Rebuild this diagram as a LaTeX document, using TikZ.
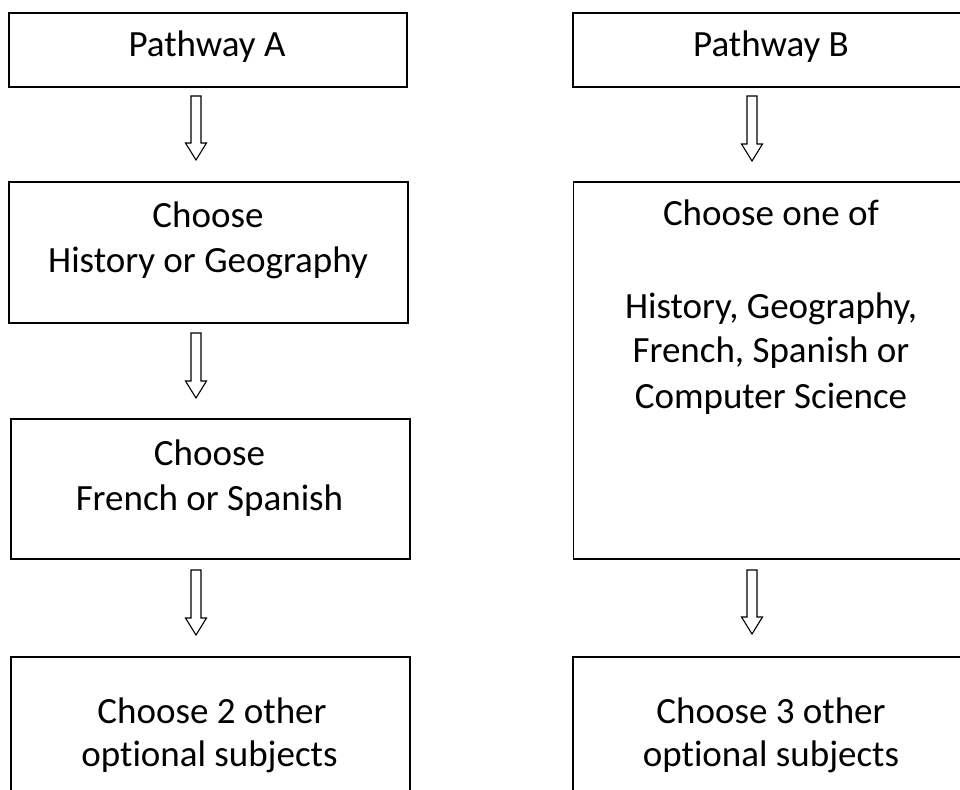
\documentclass[tikz,border=0pt]{standalone}
\usepackage{fontspec}
\setmainfont[Ligatures=NoCommon]{Carlito}
\usetikzlibrary{calc}
\tikzset{
  boxnode/.style={draw=black, line width=1.8pt, rectangle, inner sep=0pt},
  txt/.style={anchor=base, inner sep=0pt, font=\fontsize{37}{45}\selectfont},
  blockarr/.style={draw=black, line width=1.1pt, fill=white, line join=miter}
}
\newcommand\blockarrow[2]{%
  \draw[blockarr] let \p1=(#1), \p2=(#2) in
    (\x1-5pt,\y1) -- (\x1+5pt,\y1) -- (\x1+5pt,\y2+17pt) -- (\x1+10.5pt,\y2+17pt)
    -- (\x1,\y2) -- (\x1-10.5pt,\y2+17pt) -- (\x1-5pt,\y2+17pt) -- cycle;}
\newcommand\boxat[5]{% name, x1, y1, x2, y2
  \node[boxnode, minimum width={(#4-#2)*1pt}, minimum height={(#5-#3)*1pt}, anchor=north west] (#1) at (#2,#3) {};}
\begin{document}
\begin{tikzpicture}[x=1pt, y=-1pt]
\useasboundingbox (0,0) rectangle (960,789);
\fill[white] (0,0) rectangle (960,789);
\clip (0,0) rectangle (960,789);
% boxes
\boxat{A1}{8}{12}{406}{86}
\boxat{A2}{8}{180.7}{407}{321.7}
\boxat{A3}{10}{418}{409}{558}
\boxat{A4}{10}{656}{409}{840}
\boxat{B1}{572}{12}{970}{86}
\boxat{B2}{572.5}{180.7}{970.5}{558}
\boxat{B3}{572}{656}{970}{840}
% texts
\node[txt] (tA1) at (207,57) {Pathway A};
\node[txt] (tB1) at (771,57) {Pathway B};
\node[txt] (tA2a) at (208,227.3) {Choose};
\node[txt] (tA2b) at (208,272.7) {History or Geography};
\node[txt] (tA3a) at (209.5,465) {Choose};
\node[txt] (tA3b) at (209.5,510) {French or Spanish};
\node[txt] (tA4a) at (212,723) {Choose 2 other};
\node[txt] (tA4b) at (209.5,766) {optional subjects};
\node[txt] (tB2a) at (771,225) {Choose one of};
\node[txt] (tB2b) at (771,318.3) {History, Geography,};
\node[txt] (tB2c) at (771,362.7) {French, Spanish or};
\node[txt] (tB2d) at (771,408.3) {Computer Science};
\node[txt] (tB3a) at (771,723) {Choose 3 other};
\node[txt] (tB3b) at (771,766) {optional subjects};
% arrow end points
\coordinate (a1t) at (196,96);   \coordinate (a1b) at (196,160);
\coordinate (a2t) at (196,333);  \coordinate (a2b) at (196,398);
\coordinate (a3t) at (196,570);  \coordinate (a3b) at (196,635);
\coordinate (b1t) at (752,96);   \coordinate (b1b) at (752,161);
\coordinate (b2t) at (752,570);  \coordinate (b2b) at (752,634);
\blockarrow{a1t}{a1b}
\blockarrow{a2t}{a2b}
\blockarrow{a3t}{a3b}
\blockarrow{b1t}{b1b}
\blockarrow{b2t}{b2b}
\end{tikzpicture}
\end{document}
